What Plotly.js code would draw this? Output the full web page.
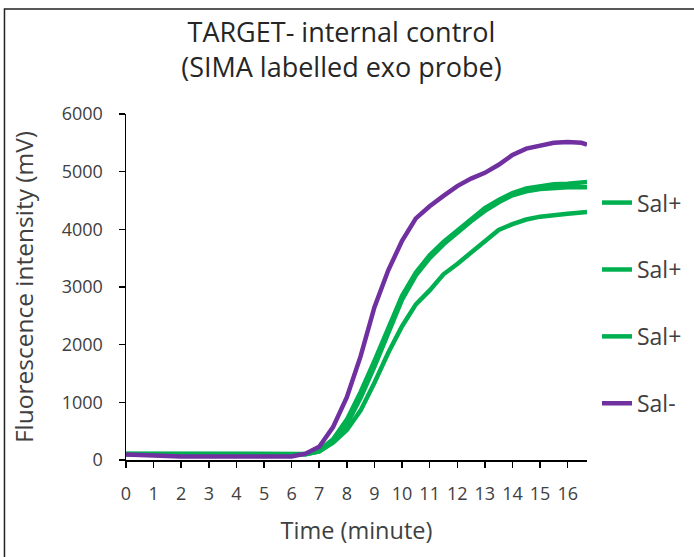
<!DOCTYPE html>
<html>
<head>
<meta charset="utf-8">
<script src="https://cdn.plot.ly/plotly-3.0.1.min.js"></script>
<style>
html,body{margin:0;padding:0;background:#fff;}
#chart{width:694px;height:557px;}
</style>
</head>
<body>
<div id="chart"></div>
<script>
// Time (minutes)
const time = [0,0.5,1,1.5,2,2.5,3,3.5,4,4.5,5,5.5,6,6.5,7,7.5,8,8.5,9,9.5,10,10.5,11,11.5,12,12.5,13,13.5,14,14.5,15,15.5,16,16.5,16.7];

// Fluorescence (mV)
const salPlus1 = [110,110,105,100,100,100,100,100,100,100,100,100,100,105,170,360,700,1180,1720,2300,2850,3250,3550,3780,3980,4170,4370,4510,4630,4710,4750,4780,4790,4800,4820];
const salPlus2 = [105,105,100,100,100,100,100,100,100,100,100,100,100,100,150,320,620,1080,1620,2220,2780,3200,3500,3740,3950,4140,4320,4470,4590,4660,4700,4720,4730,4730,4730];
const salPlus3 = [100,100,100,100,100,100,100,100,100,100,100,100,100,100,150,300,520,860,1340,1860,2320,2700,2940,3220,3400,3590,3800,3990,4090,4170,4220,4250,4270,4290,4300];
const salMinus = [95,92,88,70,62,60,60,60,60,60,60,60,62,110,230,570,1090,1800,2650,3290,3800,4190,4400,4580,4750,4880,4980,5120,5290,5400,5460,5500,5515,5500,5470];

const seriesNames = ["Sal+","Sal+","Sal+","Sal-"];
const seriesData = [salPlus1, salPlus2, salPlus3, salMinus];
const seriesColors = ["#00B050","#00B050","#00B050","#7030A0"];

const textColor = "#404040";
const fontFam = "'Open Sans', 'DejaVu Sans', sans-serif";

const traces = seriesData.map((ys, i) => ({
  x: time,
  y: ys,
  type: "scatter",
  mode: "lines",
  name: seriesNames[i],
  legendgroup: "g" + i,
  line: {color: seriesColors[i], width: 4.5, shape: "linear"},
  hoverinfo: "x+y+name"
}));

const layout = {
  width: 694,
  height: 557,
  margin: {l: 126, r: 107, t: 114, b: 97, pad: 0},
  paper_bgcolor: "#ffffff",
  plot_bgcolor: "#ffffff",
  font: {family: fontFam, color: textColor, size: 18},
  title: {
    text: "TARGET- internal control<br>(SIMA labelled exo probe)",
    font: {family: fontFam, size: 27, color: "#262626"},
    x: 0.492, xref: "container", xanchor: "center",
    y: 0.924, yref: "container", yanchor: "top"
  },
  xaxis: {
    range: [0, 16.7],
    tickmode: "linear", tick0: 0, dtick: 1,
    showgrid: false, zeroline: false,
    showline: true, linecolor: "#000", linewidth: 1.5,
    ticks: "outside", ticklen: 6, tickwidth: 1.5, tickcolor: "#000",
    ticklabelstandoff: 11,
    tickfont: {size: 18, color: textColor},
    title: {text: "Time (minute)", font: {size: 23.5, color: textColor}, standoff: 18},
    fixedrange: true
  },
  yaxis: {
    range: [0, 6000],
    tickmode: "linear", tick0: 0, dtick: 1000,
    showgrid: false, zeroline: false,
    showline: true, linecolor: "#000", linewidth: 1.5,
    ticks: "outside", ticklen: 6, tickwidth: 1.5, tickcolor: "#000",
    ticklabelstandoff: 12,
    tickfont: {size: 18, color: textColor},
    title: {text: "Fluorescence intensity (mV)", font: {size: 24.5, color: textColor}, standoff: 21},
    fixedrange: true
  },
  showlegend: true,
  legend: {
    xref: "container",
    x: 0.8602, xanchor: "left",
    y: 0.806, yanchor: "top",
    traceorder: "grouped",
    tracegroupgap: 34,
    font: {size: 23, color: textColor},
    bgcolor: "rgba(0,0,0,0)",
    itemwidth: 30
  },
  shapes: [{
    type: "rect", xref: "paper", yref: "paper",
    x0: -0.2636, x1: 1.4, y0: -0.4, y1: 1.3035,
    line: {color: "#222", width: 1.5},
    fillcolor: "rgba(0,0,0,0)",
    layer: "above"
  }]
};

Plotly.newPlot("chart", traces, layout, {displayModeBar: false, staticPlot: true});
</script>
</body>
</html>
